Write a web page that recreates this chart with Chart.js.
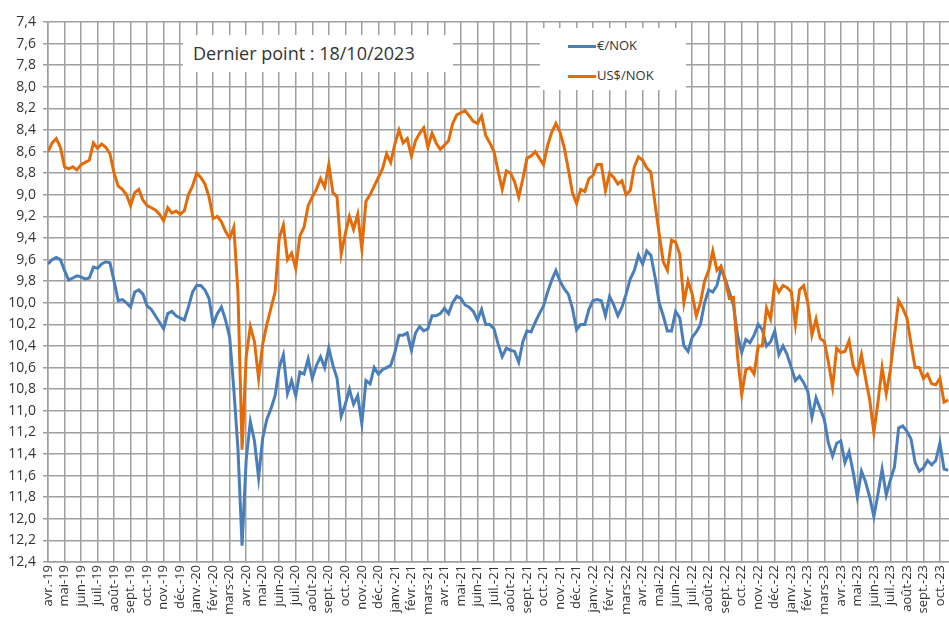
<!DOCTYPE html>
<html lang="fr">
<head>
    <meta charset="UTF-8">
    <title>€/NOK et US$/NOK</title>
    <script src="https://cdn.jsdelivr.net/npm/chart.js"></script>
    <style>
        body { margin: 0; background: #fff; font-family: "Open Sans", sans-serif; color: #333; }
        .wrap { position: relative; width: 949px; height: 626px; }
        .note {
            position: absolute; left: 183px; top: 35px; width: 270px; height: 37px;
            background: #fff; font-size: 18px; line-height: 37px; padding-left: 10px; box-sizing: border-box;
        }
        .legend {
            position: absolute; left: 540px; top: 28px; width: 146px; height: 62px;
            background: #fff; font-size: 13px;
        }
        .legend div { position: absolute; left: 28px; height: 16px; line-height: 16px; }
        .legend span { display: inline-block; width: 28px; height: 3px; vertical-align: middle; margin-right: 1px; }
    </style>
</head>
<body>
<div class="wrap">
    <canvas id="fxChart" width="949" height="626"></canvas>
    <div class="note">Dernier point : 18/10/2023</div>
    <div class="legend">
        <div style="top: 9px;"><span style="background:#4a7ebb"></span>€/NOK</div>
        <div style="top: 39px;"><span style="background:#e36c09"></span>US$/NOK</div>
    </div>
</div>
<script>
    // month labels, one per gridline, starting avr.-19
    const monthLabels = [
        'avr.-19', 'mai-19', 'juin-19', 'juil.-19', 'août-19', 'sept.-19', 'oct.-19', 'nov.-19', 'déc.-19',
        'janv.-20', 'févr.-20', 'mars-20', 'avr.-20', 'mai-20', 'juin-20', 'juil.-20', 'août-20', 'sept.-20', 'oct.-20', 'nov.-20', 'déc.-20',
        'janv.-21', 'févr.-21', 'mars-21', 'avr.-21', 'mai-21', 'juin-21', 'juil.-21', 'août-21', 'sept.-21', 'oct.-21', 'nov.-21', 'déc.-21',
        'janv.-22', 'févr.-22', 'mars-22', 'avr.-22', 'mai-22', 'juin-22', 'juil.-22', 'août-22', 'sept.-22', 'oct.-22', 'nov.-22', 'déc.-22',
        'janv.-23', 'févr.-23', 'mars-23', 'avr.-23', 'mai-23', 'juin-23', 'juil.-23', 'août-23', 'sept.-23', 'oct.-23'
    ];

    // weekly readings (4 per month) from early April 2019 to 18/10/2023
    const pointsPerMonth = 4;
    const lastPoint = 54.55; // 18 oct. 2023, in months since avr.-19

    const eurNok = [
        9.64, 9.60, 9.58, 9.60,  9.70, 9.79, 9.77, 9.75,  9.76, 9.78, 9.77, 9.67,
        9.68, 9.64, 9.62, 9.63,  9.80, 9.98, 9.97, 10.00, 10.04, 9.90, 9.88, 9.92,
        10.03, 10.06, 10.12, 10.18, 10.24, 10.10, 10.08, 10.12, 10.14, 10.16, 10.04, 9.90,
        9.84, 9.84, 9.88, 9.96,  10.20, 10.10, 10.04, 10.16, 10.32, 10.80, 11.35, 12.25,
        11.45, 11.10, 11.28, 11.62, 11.25, 11.08, 10.98, 10.86, 10.60, 10.48, 10.84, 10.72,
        10.86, 10.64, 10.66, 10.52, 10.70, 10.58, 10.50, 10.60, 10.42, 10.58, 10.70, 11.05,
        10.94, 10.80, 10.94, 10.86, 11.12, 10.72, 10.75, 10.60, 10.66, 10.62, 10.60, 10.58,
        10.46, 10.30, 10.30, 10.28, 10.44, 10.28, 10.22, 10.26, 10.24, 10.12, 10.12, 10.10,
        10.05, 10.10, 10.00, 9.94,  9.96, 10.02, 10.04, 10.08, 10.16, 10.06, 10.20, 10.20,
        10.24, 10.38, 10.50, 10.42, 10.44, 10.45, 10.55, 10.36, 10.26, 10.27, 10.18, 10.10,
        10.03, 9.90, 9.79, 9.70,  9.80, 9.87, 9.92, 10.05,  10.25, 10.20, 10.20, 10.06,
        9.98, 9.97, 9.98, 10.12,  9.94, 10.02, 10.12, 10.04, 9.92, 9.78, 9.70, 9.56,
        9.64, 9.52, 9.56, 9.76,  10.00, 10.12, 10.26, 10.26, 10.08, 10.14, 10.40, 10.45,
        10.32, 10.27, 10.20, 10.00, 9.88, 9.90, 9.84, 9.68,  9.78, 9.90, 10.02, 10.30,
        10.46, 10.34, 10.37, 10.30, 10.20, 10.25, 10.40, 10.36, 10.26, 10.48, 10.40, 10.48,
        10.60, 10.72, 10.68, 10.74, 10.82, 11.06, 10.88, 10.98, 11.08, 11.30, 11.42, 11.30,
        11.28, 11.48, 11.38, 11.57, 11.80, 11.56, 11.66, 11.80, 11.98, 11.77, 11.54, 11.78,
        11.64, 11.52, 11.16, 11.14, 11.19, 11.26, 11.48, 11.56, 11.53, 11.46, 11.50, 11.46,
        11.30, 11.54, 11.55
    ];

    const usdNok = [
        8.60, 8.52, 8.48, 8.56,  8.74, 8.76, 8.74, 8.77,  8.72, 8.70, 8.68, 8.52,
        8.57, 8.53, 8.56, 8.62,  8.80, 8.92, 8.95, 9.00,  9.10, 8.98, 8.95, 9.05,
        9.10, 9.12, 9.14, 9.18,  9.24, 9.12, 9.17, 9.15,  9.18, 9.15, 9.00, 8.92,
        8.80, 8.84, 8.90, 9.02,  9.22, 9.20, 9.25, 9.34,  9.40, 9.30, 9.90, 11.36,
        10.50, 10.22, 10.36, 10.70, 10.38, 10.20, 10.05, 9.90, 9.40, 9.28, 9.60, 9.54,
        9.68, 9.38, 9.30, 9.10,  9.02, 8.95, 8.85, 8.93,  8.72, 8.98, 9.02, 9.55,
        9.36, 9.20, 9.32, 9.18,  9.50, 9.06, 9.00, 8.92,  8.84, 8.76, 8.62, 8.70,
        8.53, 8.40, 8.52, 8.48,  8.64, 8.50, 8.43, 8.38,  8.56, 8.43, 8.52, 8.58,
        8.54, 8.50, 8.34, 8.26,  8.24, 8.22, 8.27, 8.32,  8.34, 8.27, 8.45, 8.52,
        8.60, 8.78, 8.95, 8.78,  8.80, 8.88, 9.02, 8.85,  8.66, 8.64, 8.60, 8.66,
        8.72, 8.54, 8.42, 8.34,  8.42, 8.56, 8.76, 8.98,  9.08, 8.95, 8.97, 8.85,
        8.82, 8.72, 8.72, 8.96,  8.80, 8.84, 8.90, 8.87,  9.00, 8.96, 8.74, 8.65,
        8.68, 8.75, 8.79, 9.08,  9.36, 9.62, 9.70, 9.42,  9.44, 9.55, 10.00, 9.80,
        9.92, 10.12, 10.00, 9.80, 9.70, 9.52, 9.70, 9.66,  9.80, 9.96, 9.95, 10.50,
        10.85, 10.62, 10.60, 10.66, 10.40, 10.40, 10.05, 10.15, 9.82, 9.90, 9.84, 9.86,
        9.90, 10.20, 9.88, 9.84,  10.00, 10.30, 10.15, 10.33, 10.36, 10.55, 10.78, 10.42,
        10.46, 10.45, 10.35, 10.58, 10.66, 10.48, 10.70, 10.90, 11.20, 10.92, 10.60, 10.84,
        10.62, 10.30, 9.98, 10.05, 10.14, 10.38, 10.60, 10.60, 10.70, 10.66, 10.75, 10.76,
        10.70, 10.92, 10.90
    ];

    const toPoints = values => values.map((v, i) => ({ x: i / pointsPerMonth, y: v }));

    const gridColor = '#a0a0a0';
    const textColor = '#333333';

    new Chart(document.getElementById('fxChart'), {
        type: 'line',
        data: {
            datasets: [
                {
                    label: 'US$/NOK',
                    data: toPoints(usdNok),
                    borderColor: '#e36c09',
                    borderWidth: 3,
                    pointRadius: 0,
                    tension: 0
                },
                {
                    label: '€/NOK',
                    data: toPoints(eurNok),
                    borderColor: '#4a7ebb',
                    borderWidth: 3,
                    pointRadius: 0,
                    tension: 0
                }
            ]
        },
        options: {
            responsive: false,
            animation: false,
            devicePixelRatio: 1,
            layout: { padding: { top: 22, right: 0, bottom: 0, left: 0 } },
            plugins: {
                legend: { display: false },
                tooltip: { enabled: false }
            },
            scales: {
                x: {
                    type: 'linear',
                    min: 0,
                    max: lastPoint,
                    // one tick per month label
                    afterBuildTicks: scale => {
                        scale.ticks = monthLabels.map((_, i) => ({ value: i }));
                    },
                    // plot runs right up to the canvas edge
                    afterFit: scale => {
                        scale.height = 64;
                        scale.paddingLeft = 0;
                        scale.paddingRight = 0;
                    },
                    ticks: {
                        autoSkip: false,
                        minRotation: 90,
                        maxRotation: 90,
                        padding: 3,
                        color: textColor,
                        font: { family: 'Open Sans', size: 13 },
                        callback: value => monthLabels[value] || ''
                    },
                    grid: { color: gridColor, lineWidth: 1.5, tickLength: 0 },
                    border: { color: gridColor, width: 1.5 }
                },
                y: {
                    reverse: true,
                    min: 7.4,
                    max: 12.4,
                    afterFit: scale => { scale.width = 48; },
                    ticks: {
                        stepSize: 0.2,
                        padding: 7,
                        color: textColor,
                        font: { family: 'Open Sans', size: 14 },
                        callback: value => value.toFixed(1).replace('.', ',')
                    },
                    grid: { color: gridColor, lineWidth: 1.5, tickLength: 5 },
                    border: { color: gridColor, width: 1.5 }
                }
            }
        }
    });
</script>
</body>
</html>
